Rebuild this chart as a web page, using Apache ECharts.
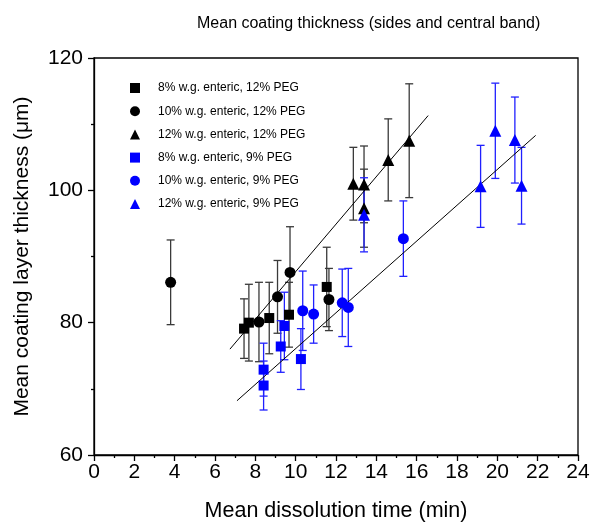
<!DOCTYPE html>
<html>
<head>
<meta charset="utf-8">
<script src="https://cdn.jsdelivr.net/npm/echarts@6/dist/echarts.min.js"></script>
<style>html,body{margin:0;padding:0;background:#fff}#c{width:593px;height:522px}</style>
</head>
<body>
<div id="c"></div>
<script>
// ---- data ----
var xTicks = [0, 2, 4, 6, 8, 10, 12, 14, 16, 18, 20, 22, 24];
var yTicks = [60, 80, 100, 120];

var names = [
  '8% w.g. enteric, 12% PEG',
  '10% w.g. enteric, 12% PEG',
  '12% w.g. enteric, 12% PEG',
  '8% w.g. enteric, 9% PEG',
  '10% w.g. enteric, 9% PEG',
  '12% w.g. enteric, 9% PEG'
];

var blackSqX = [7.44, 7.68, 8.69, 9.67, 11.54];
var blackSqY = [79.1, 80.0, 80.7, 81.2, 85.4];
var blackSqE = [4.5, 5.8, 5.4, 4.9, 6.0];

var blackCiX = [3.80, 8.18, 9.10, 9.72, 11.65];
var blackCiY = [86.1, 80.1, 83.9, 87.6, 83.5];
var blackCiE = [6.4, 6.0, 5.5, 6.9, 4.7];

var blackTrX = [12.86, 13.39, 13.39, 14.59, 15.63];
var blackTrY = [101.0, 100.9, 97.3, 104.6, 107.5];
var blackTrE = [5.5, 5.8, 5.9, 6.2, 8.6];

var blueSqX = [8.41, 8.41, 9.26, 9.44, 10.26];
var blueSqY = [72.9, 70.5, 76.4, 79.5, 74.5];
var blueSqE = [4.0, 3.7, 3.9, 5.1, 4.6];

var blueCiX = [10.35, 10.89, 12.31, 12.61, 15.34];
var blueCiY = [81.8, 81.3, 83.0, 82.3, 92.7];
var blueCiE = [6.0, 4.4, 5.1, 5.9, 5.7];

var blueTrX = [13.39, 19.17, 19.90, 20.87, 21.20];
var blueTrY = [96.3, 100.6, 109.0, 107.6, 100.7];
var blueTrE = [5.6, 6.2, 7.2, 6.5, 5.8];

var blackFitX = [6.74, 16.57];
var blackFitY = [76.0, 111.3];
var blueFitX = [7.09, 21.90];
var blueFitY = [68.2, 108.3];

// ---- build ----
var FONT = 'Arial, "Liberation Sans", sans-serif';
function zip(xs, ys, es) {
  return xs.map(function (x, i) { return es ? [x, ys[i], es[i]] : [x, ys[i]]; });
}
function errSeries(xs, ys, es, color) {
  return {
    type: 'custom',
    silent: true,
    z: 1,
    data: zip(xs, ys, es),
    encode: { x: 0, y: 1 },
    renderItem: function (params, api) {
      var x = api.value(0), y = api.value(1), e = api.value(2);
      var hi = api.coord([x, y + e]);
      var lo = api.coord([x, y - e]);
      var w = 4;
      var st = { stroke: color, lineWidth: 1.3 };
      return {
        type: 'group',
        children: [
          { type: 'line', shape: { x1: hi[0], y1: hi[1], x2: lo[0], y2: lo[1] }, style: st },
          { type: 'line', shape: { x1: hi[0] - w, y1: hi[1], x2: hi[0] + w, y2: hi[1] }, style: st },
          { type: 'line', shape: { x1: lo[0] - w, y1: lo[1], x2: lo[0] + w, y2: lo[1] }, style: st }
        ]
      };
    }
  };
}
function pts(name, xs, ys, symbol, size, color) {
  return {
    name: name, type: 'scatter', symbol: symbol, symbolSize: size, z: 3,
    itemStyle: { color: color, opacity: 1 },
    data: zip(xs, ys)
  };
}
function fit(xs, ys) {
  return {
    type: 'line', silent: true, symbol: 'none', z: 2,
    lineStyle: { color: '#000', width: 1 },
    data: zip(xs, ys)
  };
}
var BLK = '#000000', BLU = '#0000ff';
var BLKE = '#3a3a3a', BLUE = '#2020ff';

var series = [
  errSeries(blackSqX, blackSqY, blackSqE, BLKE),
  errSeries(blackCiX, blackCiY, blackCiE, BLKE),
  errSeries(blackTrX, blackTrY, blackTrE, BLKE),
  errSeries(blueSqX, blueSqY, blueSqE, BLUE),
  errSeries(blueCiX, blueCiY, blueCiE, BLUE),
  errSeries(blueTrX, blueTrY, blueTrE, BLUE),
  fit(blackFitX, blackFitY),
  fit(blueFitX, blueFitY),
  pts(names[0], blackSqX, blackSqY, 'rect', 10, BLK),
  pts(names[1], blackCiX, blackCiY, 'circle', 11, BLK),
  pts(names[2], blackTrX, blackTrY, 'triangle', 12, BLK),
  pts(names[3], blueSqX, blueSqY, 'rect', 10, BLU),
  pts(names[4], blueCiX, blueCiY, 'circle', 11, BLU),
  pts(names[5], blueTrX, blueTrY, 'triangle', 12, BLU)
];

var chart = echarts.init(document.getElementById('c'), null, { renderer: 'canvas' });
chart.setOption({
  backgroundColor: '#fff',
  animation: false,
  title: {
    text: 'Mean coating thickness (sides and central band)',
    left: 192, top: 11,
    textStyle: { fontFamily: FONT, fontSize: 16, fontWeight: 'normal', color: '#000' }
  },
  legend: {
    data: names,
    orient: 'vertical',
    left: 125, top: 77,
    itemWidth: 10, itemHeight: 10,
    itemGap: 11.2,
    selectedMode: false,
    textStyle: { fontFamily: FONT, fontSize: 12, color: '#000', padding: [0, 0, 0, 13] }
  },
  grid: {
    left: 94, right: 15, top: 58, bottom: 67,
    outerBoundsMode: 'none', containLabel: false,
    show: true, borderColor: '#000', borderWidth: 1.3, backgroundColor: 'transparent'
  },
  xAxis: {
    type: 'value', min: xTicks[0], max: xTicks[xTicks.length - 1], interval: 2,
    name: 'Mean dissolution time (min)', nameLocation: 'middle', nameGap: 45,
    nameTextStyle: { fontFamily: FONT, fontSize: 21.5, color: '#000' },
    axisLine: { show: true, onZero: false, lineStyle: { color: '#000', width: 1.3 } },
    axisTick: { show: true, inside: false, length: 6, lineStyle: { color: '#000', width: 1.3 } },
    minorTick: { show: true, splitNumber: 2, length: 3, lineStyle: { color: '#000', width: 1.3 } },
    axisLabel: { fontFamily: FONT, fontSize: 21, color: '#000', margin: 7 },
    splitLine: { show: false }
  },
  yAxis: {
    type: 'value', min: yTicks[0], max: yTicks[yTicks.length - 1], interval: 20,
    name: 'Mean coating layer thickness (\u03bcm)', nameLocation: 'middle', nameGap: 61,
    nameTextStyle: { fontFamily: FONT, fontSize: 21, color: '#000' },
    axisLine: { show: true, onZero: false, lineStyle: { color: '#000', width: 1.3 } },
    axisTick: { show: true, inside: false, length: 6, lineStyle: { color: '#000', width: 1.3 } },
    minorTick: { show: true, splitNumber: 2, length: 3, lineStyle: { color: '#000', width: 1.3 } },
    axisLabel: { fontFamily: FONT, fontSize: 21, color: '#000', margin: 11 },
    splitLine: { show: false }
  },
  series: series
});
</script>
</body>
</html>
